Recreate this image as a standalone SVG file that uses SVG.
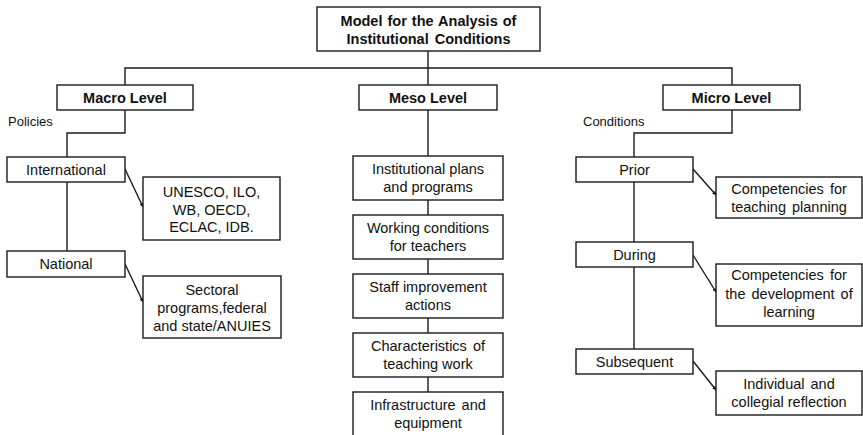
<svg xmlns="http://www.w3.org/2000/svg" width="863" height="435" viewBox="0 0 863 435">
  <style>
    .box { fill: #ffffff; stroke: #1a1a1a; stroke-width: 1.4; }
    .ln { fill: none; stroke: #1a1a1a; stroke-width: 1.4; }
    text { font-family: "Liberation Sans", Arial, sans-serif; font-size: 14.5px; fill: #111; text-anchor: middle; }
    .b { font-weight: bold; }
    .lbl { text-anchor: start; font-size: 13px; }
  </style>
  <defs>
    <marker id="arr" viewBox="0 0 6 6" refX="5.5" refY="3" markerWidth="4" markerHeight="4" orient="auto" markerUnits="userSpaceOnUse">
      <path d="M0,0 L6,3 L0,6 z" fill="#1a1a1a"/>
    </marker>
  </defs>
  <rect width="863" height="435" fill="#ffffff"/>

  <!-- connectors -->
  <g id="connectors">
    <path class="ln" d="M428,51 V85 M125,85 V68 H732 V85"/>
    <path class="ln" d="M125,110 V133 H67 V157 M67,182 V251"/>
    <path class="ln" d="M428,110 V156 M428,200 V215 M428,259 V274 M428,318 V333 M428,377 V392"/>
    <path class="ln" d="M732,110 V133 H634 V157 M634,182 V242 M634,267 V349"/>
    <line class="ln" x1="125" y1="169" x2="143" y2="207" marker-end="url(#arr)"/>
    <line class="ln" x1="125" y1="264" x2="143" y2="302" marker-end="url(#arr)"/>
    <line class="ln" x1="693" y1="169" x2="716" y2="195" marker-end="url(#arr)"/>
    <line class="ln" x1="693" y1="255" x2="716" y2="292" marker-end="url(#arr)"/>
    <line class="ln" x1="693" y1="361" x2="716" y2="390" marker-end="url(#arr)"/>
  </g>

  <g id="title">
    <rect class="box" x="317" y="7" width="223" height="44"/>
    <text class="b" x="428.5" y="26" style="word-spacing:1px">Model for the Analysis of</text>
    <text class="b" x="428.5" y="44" style="word-spacing:2px">Institutional Conditions</text>
  </g>

  <g id="macro">
    <rect class="box" x="57" y="85" width="136" height="25"/>
    <text class="b" x="125" y="103">Macro Level</text>
  </g>
  <g id="meso">
    <rect class="box" x="359" y="85" width="138" height="25"/>
    <text class="b" x="428" y="103">Meso Level</text>
  </g>
  <g id="micro">
    <rect class="box" x="663" y="85" width="137" height="25"/>
    <text class="b" x="731.5" y="103">Micro Level</text>
  </g>

  <text class="lbl" x="8" y="126">Policies</text>
  <text class="lbl" x="583" y="126">Conditions</text>

  <!-- macro branch -->
  <g id="international">
    <rect class="box" x="7" y="157" width="118" height="25"/>
    <text x="66" y="174.5">International</text>
  </g>
  <g id="intl-orgs">
    <rect class="box" x="143" y="177" width="137" height="63"/>
    <text x="211.5" y="197">UNESCO, ILO,</text>
    <text x="211.5" y="214.5">WB, OECD,</text>
    <text x="211.5" y="232">ECLAC, IDB.</text>
  </g>
  <g id="national">
    <rect class="box" x="7" y="251" width="118" height="26"/>
    <text x="66" y="268.5">National</text>
  </g>
  <g id="sectoral">
    <rect class="box" x="143" y="276" width="138" height="62"/>
    <text x="212" y="295">Sectoral</text>
    <text x="212" y="313">programs,federal</text>
    <text x="212" y="331">and state/ANUIES</text>
  </g>

  <!-- meso branch -->
  <g id="plans">
    <rect class="box" x="353" y="156" width="150" height="44"/>
    <text x="428" y="174">Institutional plans</text>
    <text x="428" y="192">and programs</text>
  </g>
  <g id="working">
    <rect class="box" x="353" y="215" width="150" height="44"/>
    <text x="428" y="233">Working conditions</text>
    <text x="428" y="251">for teachers</text>
  </g>
  <g id="staff">
    <rect class="box" x="353" y="274" width="150" height="44"/>
    <text x="428" y="292">Staff improvement</text>
    <text x="428" y="310">actions</text>
  </g>
  <g id="characteristics">
    <rect class="box" x="353" y="333" width="150" height="44"/>
    <text x="428" y="351" style="word-spacing:2px">Characteristics of</text>
    <text x="428" y="369">teaching work</text>
  </g>
  <g id="infrastructure">
    <rect class="box" x="353" y="392" width="150" height="48"/>
    <text x="428" y="410" style="word-spacing:2px">Infrastructure and</text>
    <text x="428" y="428">equipment</text>
  </g>

  <!-- micro branch -->
  <g id="prior">
    <rect class="box" x="576" y="157" width="117" height="25"/>
    <text x="634.5" y="174.5">Prior</text>
  </g>
  <g id="planning">
    <rect class="box" x="716" y="177" width="146" height="41"/>
    <text x="789" y="194" style="word-spacing:2px">Competencies for</text>
    <text x="789" y="211.5" style="word-spacing:2px">teaching planning</text>
  </g>
  <g id="during">
    <rect class="box" x="576" y="242" width="117" height="25"/>
    <text x="634.5" y="259.5">During</text>
  </g>
  <g id="learning">
    <rect class="box" x="716" y="264" width="146" height="62"/>
    <text x="789" y="280" style="word-spacing:2px">Competencies for</text>
    <text x="789" y="298.5" style="word-spacing:2px">the development of</text>
    <text x="789" y="317">learning</text>
  </g>
  <g id="subsequent">
    <rect class="box" x="576" y="349" width="117" height="25"/>
    <text x="634.5" y="366.5">Subsequent</text>
  </g>
  <g id="reflection">
    <rect class="box" x="716" y="371" width="146" height="44"/>
    <text x="789" y="389" style="word-spacing:2px">Individual and</text>
    <text x="789" y="407">collegial reflection</text>
  </g>
</svg>
